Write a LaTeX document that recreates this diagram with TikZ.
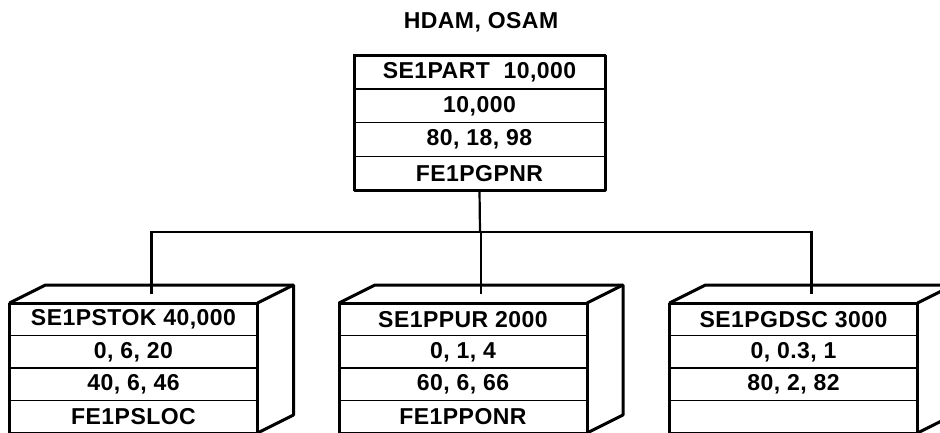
\documentclass[tikz,border=0pt]{standalone}
\usepackage{fontspec}
\setmainfont[LetterSpace=2]{Liberation Sans}
\usetikzlibrary{positioning,calc}

\begin{document}
\begin{tikzpicture}[x=1pt, y=-1pt,
  lbl/.style={font=\fontsize{23}{23}\selectfont\bfseries},
  trow/.style={lbl, draw, line width=1.6pt, fill=white, outer sep=0pt, inner sep=0pt,
               minimum width=251pt, minimum height=33.75pt},
  brow/.style={trow, minimum width=248pt, minimum height=32.5pt},
  frame/.style={line width=3pt, line join=round},
  wire/.style={line width=2.2pt}]
\useasboundingbox (0,0) rectangle (940,432);
\node[lbl] (title) at (481, 22) {HDAM, OSAM};
% root segment
\foreach \n/\l [count=\i from 0] in
  {t0/{SE1PART\ \ 10,000}, t1/{10,000}, t2/{80, 18, 98}, t3/FE1PGPNR}
  \node[trow] (\n) at (479.5, {72+\i*33.75}) {\l};
\draw[frame] (t0.north west) rectangle (t3.south east);
% dependent segments
\foreach \b/\x/\ra/\rb/\rc/\rd in
  {a/133.5/{SE1PSTOK 40,000}/{0, 6, 20}/{40, 6, 46}/FE1PSLOC,
   b/463/{SE1PPUR 2000}/{0, 1, 4}/{60, 6, 66}/FE1PPONR,
   c/793.5/{SE1PGDSC 3000}/{0, 0.3, 1}/{80, 2, 82}/{}} {
  \node[brow] (\b0) at (\x, 319.25) {\ra};
  \node[brow] (\b1) at (\x, 351.75) {\rb};
  \node[brow] (\b2) at (\x, 384.25) {\rc};
  \node[brow] (\b3) at (\x, 416.75) {\rd};
  \draw[frame] (\b0.north west) rectangle (\b3.south east);
  \draw[frame] (\b0.north west) -- ++(36,-18) -- ++(248,0) -- ++(0,130) -- (\b3.south east);
  \draw[frame] (\b0.north east) -- ++(36,-18);
  \coordinate (top\b) at ($(\b0.north)+(18,-9)$);
}
\coordinate (bus) at (480, 232);
\draw[wire] (t3.south) -- (bus);
\foreach \b in {a,b,c}
  \draw[wire] (top\b) |- (bus);
\end{tikzpicture}
\end{document}
